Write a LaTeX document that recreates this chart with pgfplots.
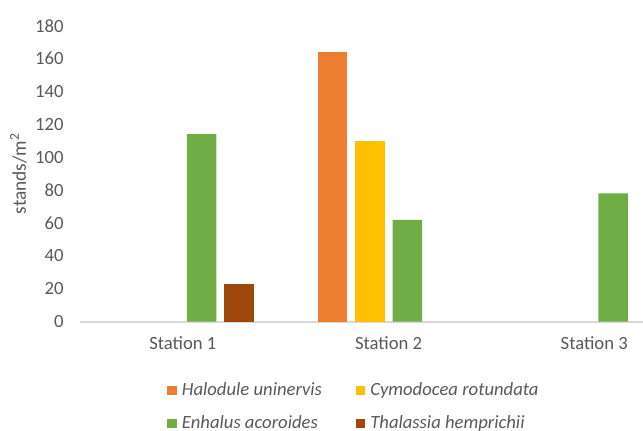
\documentclass[border=0pt]{standalone}
\usepackage{pgfplots}
\pgfplotsset{compat=1.18}
\usepackage{fontspec}
\setmainfont{Carlito}
\definecolor{txtgray}{HTML}{595959}
\definecolor{axgray}{HTML}{D9D9D9}
\definecolor{halodule}{HTML}{ED7D31}
\definecolor{cymodocea}{HTML}{FFC000}
\definecolor{enhalus}{HTML}{70AD47}
\definecolor{thalassia}{HTML}{9E480E}
\begin{document}
\fontsize{14}{16.5}\selectfont
\begin{tikzpicture}[x=0.75pt,y=0.75pt]
\useasboundingbox (-80,-108.3) rectangle (563,321.7);
\begin{axis}[
  at={(0,0)}, anchor=south west,
  scale only axis, width=422.25pt, height=222pt,
  ymin=0, ymax=180, ytick={0,20,...,180},
  xmin=-0.5, xmax=2.237,
  xtick={0,1,2}, xticklabels={Station 1, Station 2, Station 3},
  axis x line*=bottom, axis y line*=left,
  y axis line style={draw=none},
  x axis line style={draw=axgray, line width=1.2pt},
  major tick length=0pt, tick style={draw=none},
  ybar, bar width=0.1434,
  /pgf/number format/assume math mode=true,
  ticklabel style={text=txtgray, font=\fontsize{14}{16.5}\selectfont},
  yticklabel style={xshift=-7.5pt},
  xticklabel style={yshift=-6pt},
  every axis y label/.style={at={(axis description cs:-0.1096,0.5)}, rotate=90, anchor=center},
  ylabel={stands/m\textsuperscript{2}},
  label style={text=txtgray, font=\fontsize{14.5}{17}\selectfont},
  clip=false,
  legend columns=2,
  legend style={
    at={(axis description cs:0.1545,-0.196)}, anchor=north west,
    draw=none, fill=none, inner sep=0pt,
    font=\itshape\fontsize{14}{16.5}\selectfont, text=txtgray,
    /tikz/every even column/.append style={column sep=23.2pt},
    row sep=9pt,
  },
  legend cell align=left,
  legend image code/.code={\fill (0pt,-3.5pt) rectangle (7pt,3.5pt);\path (0pt,0pt) -- (9pt,0pt);},
]
% Halodule uninervis
\addplot[fill=halodule, draw=none, bar shift=-0.2735] coordinates {(1,164)};
% Cymodocea rotundata
\addplot[fill=cymodocea, draw=none, bar shift=-0.0912] coordinates {(1,110)};
% Enhalus acoroides
\addplot[fill=enhalus, draw=none, bar shift=0.0912] coordinates {(0,114) (1,62) (2,78)};
% Thalassia hemprichii
\addplot[fill=thalassia, draw=none, bar shift=0.2735] coordinates {(0,23)};
\legend{Halodule uninervis, Cymodocea rotundata, Enhalus acoroides, Thalassia hemprichii}
\end{axis}
\end{tikzpicture}
\end{document}
